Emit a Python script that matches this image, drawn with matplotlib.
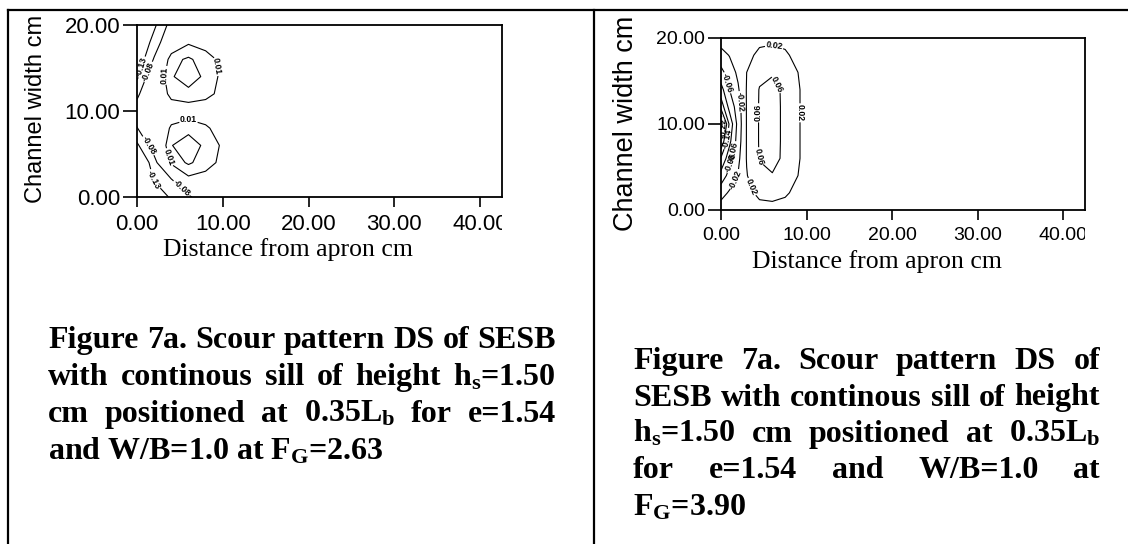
import matplotlib
matplotlib.use("Agg")
import matplotlib.pyplot as plt
from matplotlib.lines import Line2D
from matplotlib.ticker import FormatStrFormatter
from matplotlib.transforms import Bbox, TransformedBbox
import numpy as np

plt.rcParams['font.family'] = ['Liberation Sans', 'DejaVu Sans']
plt.rcParams['mathtext.fontset'] = 'custom'
plt.rcParams['mathtext.bf'] = 'Liberation Serif:bold'
plt.rcParams['mathtext.rm'] = 'Liberation Serif:bold'
plt.rcParams['mathtext.default'] = 'bf'

# scour depth (F_G = 2.63), rows = y, cols = x
xa = [0, 2, 4, 6, 8, 10, 12, 15, 42.5]
ya = [0, 2, 4, 6, 8, 10, 12, 14, 16, 18, 20]
za = [
    [-0.28, -0.18, -0.12, -0.09, -0.04, -0.025, -0.02, -0.02, -0.02],
    [-0.24, -0.125, -0.085, 0.0, -0.005, -0.015, -0.02, -0.02, -0.02],
    [-0.20, -0.10, 0.02, 0.045, 0.025, 0.0, -0.015, -0.02, -0.02],
    [-0.14, -0.05, 0.038, 0.065, 0.03, 0.005, -0.015, -0.02, -0.02],
    [-0.082, -0.03, 0.015, 0.025, 0.015, -0.005, -0.015, -0.02, -0.02],
    [-0.06, -0.03, -0.01, -0.005, -0.01, -0.015, -0.02, -0.02, -0.02],
    [-0.09, -0.025, 0.02, 0.025, 0.02, 0.0, -0.015, -0.02, -0.02],
    [-0.14, -0.03, 0.035, 0.065, 0.03, 0.002, -0.015, -0.02, -0.02],
    [-0.17, -0.075, 0.03, 0.045, 0.025, 0.0, -0.015, -0.02, -0.02],
    [-0.19, -0.11, -0.03, 0.005, -0.005, -0.02, -0.02, -0.02, -0.02],
    [-0.22, -0.14, -0.06, -0.03, -0.025, -0.02, -0.02, -0.02, -0.02],
]
levels_a = [-0.13, -0.08, 0.01, 0.04]
labeled_a = [-0.13, -0.08, 0.01]
# where the original puts the contour labels
spots_a = [(0.9, 15.0), (1.7, 14.4), (3.0, 14.2), (9.5, 15.2), (6.0, 9.2),
           (1.4, 6.0), (3.3, 4.5), (1.9, 2.0), (5.0, 0.8)]

# right plot (F_G = 3.90)
xb = [0, 1, 2, 3, 4.5, 6, 7.5, 9, 11, 15, 42.5]
yb = [0, 2, 4, 6, 8, 10, 12, 14, 16, 18, 20]
zb = [
    [0.0, -0.005, 0.0, 0.003, 0.008, 0.008, 0.006, 0.003, 0.0, 0.0, 0.0],
    [-0.035, -0.015, -0.005, 0.01, 0.028, 0.032, 0.025, 0.01, 0.003, 0.0, 0.0],
    [-0.085, -0.045, -0.018, 0.018, 0.05, 0.057, 0.045, 0.02, 0.005, 0.0, 0.0],
    [-0.135, -0.075, -0.03, 0.022, 0.062, 0.075, 0.05, 0.022, 0.005, 0.0, 0.0],
    [-0.215, -0.11, -0.04, 0.022, 0.063, 0.077, 0.05, 0.022, 0.005, 0.0, 0.0],
    [-0.28, -0.13, -0.045, 0.022, 0.063, 0.077, 0.05, 0.022, 0.005, 0.0, 0.0],
    [-0.165, -0.085, -0.04, 0.022, 0.063, 0.077, 0.05, 0.022, 0.005, 0.0, 0.0],
    [-0.115, -0.06, -0.025, 0.022, 0.062, 0.075, 0.05, 0.022, 0.005, 0.0, 0.0],
    [-0.072, -0.04, -0.012, 0.02, 0.05, 0.055, 0.04, 0.02, 0.005, 0.0, 0.0],
    [-0.035, -0.018, 0.0, 0.01, 0.028, 0.032, 0.025, 0.01, 0.005, 0.0, 0.0],
    [0.0, -0.005, 0.0, 0.005, 0.01, 0.012, 0.01, 0.005, 0.0, 0.0, 0.0],
]
levels_b = [-0.26, -0.22, -0.18, -0.14, -0.10, -0.06, -0.02, 0.02, 0.06]
spots_b = [(6.1, 18.8), (6.7, 14.7), (9.3, 11.3), (3.7, 11.3), (1.1, 14.9),
           (2.6, 12.6), (4.9, 6.2), (3.6, 2.7), (0.3, 9.6), (0.6, 8.3),
           (1.2, 6.8), (1.6, 5.6), (1.8, 3.5)]

xticks = [0, 10, 20, 30, 40]
yticks = [0, 10, 20]
xlabel = "Distance from apron cm"
ylabel = "Channel width cm"

cap_a = ["Figure 7a. Scour pattern DS of SESB",
         "with continous sill of height h$_s$=1.50",
         "cm positioned at 0.35L$_b$ for e=1.54",
         "and W/B=1.0 at F$_G$=2.63"]
cap_b = ["Figure 7a. Scour pattern DS of",
         "SESB with continous sill of height",
         "h$_s$=1.50 cm positioned at 0.35L$_b$",
         "for e=1.54 and W/B=1.0 at",
         "F$_G$=3.90"]

W, H = 1128, 544
fig = plt.figure(figsize=(W / 100, H / 100), dpi=100)


def px_axes(l, t, r, b):
    return fig.add_axes([l / W, 1 - b / H, (r - l) / W, (b - t) / H])


def setup(ax, x, y, z, levels, labeled, spots, tsize, ylen):
    cs = ax.contour(x, y, np.array(z), levels=levels, colors='black',
                    linewidths=0.8, linestyles='solid')
    txt = ax.clabel(cs, labeled, fmt='%.2f', fontsize=6.3, inline=True,
                    inline_spacing=1, manual=spots)
    for t in txt:
        t.set_fontweight('bold')
    ax.set_xlim(0, 42.55)
    ax.set_ylim(0, 20)
    ax.set_xticks(xticks)
    ax.set_yticks(yticks)
    ax.xaxis.set_major_formatter(FormatStrFormatter('%.2f'))
    ax.yaxis.set_major_formatter(FormatStrFormatter('%.2f'))
    ax.tick_params(axis='x', direction='out', length=7.5, width=1.2, pad=5, labelsize=tsize)
    ax.tick_params(axis='y', direction='out', length=ylen, width=1.2, pad=2, labelsize=tsize)
    for s in ax.spines.values():
        s.set_linewidth(1.3)
    return ax


ax1 = setup(px_axes(137, 25, 502, 197), xa, ya, za, levels_a, labeled_a, spots_a, 16, 10)
ax2 = setup(px_axes(721, 38, 1085, 210), xb, yb, zb, levels_b, levels_b, spots_b, 14, 9.5)

# axis titles
fig.text(36 / W, 1 - 109 / H, ylabel, rotation=90, ha='center', va='center', fontsize=17)
fig.text(626 / W, 1 - 123 / H, ylabel, rotation=90, ha='center', va='center', fontsize=19.5)
fig.text(288 / W, 1 - 256 / H, xlabel, ha='center', va='baseline', fontsize=18.5,
         family='Liberation Serif')
fig.text(877 / W, 1 - 268 / H, xlabel, ha='center', va='baseline', fontsize=18.5,
         family='Liberation Serif')

# table frame
for xs, ys in [([8, W], [10, 10]), ([8, 8], [10, H]), ([594, 594], [10, H])]:
    fig.add_artist(Line2D([v / W for v in xs], [1 - v / H for v in ys],
                          transform=fig.transFigure, color='black', lw=1.6))

fig.canvas.draw()
renderer = fig.canvas.get_renderer()

# last tick label is cut by the right frame in the original
for ax in (ax1, ax2):
    clip = TransformedBbox(Bbox([[-1, -1], [1, 1]]), ax.transAxes)
    for lbl in ax.get_xticklabels():
        lbl.set_clip_box(clip)
        lbl.set_clip_on(True)

cap_kw = dict(family='Liberation Serif', weight='bold', fontsize=23, va='baseline')


def justified(lines, x0, x1, y0, dy):
    for i, line in enumerate(lines):
        y = 1 - (y0 + i * dy) / H
        if i == len(lines) - 1:
            fig.text(x0 / W, y, line, ha='left', **cap_kw)
            continue
        words = line.split(' ')
        ts = [fig.text(0, y, w, ha='left', **cap_kw) for w in words]
        ws = [t.get_window_extent(renderer).width for t in ts]
        gap = (x1 - x0 - sum(ws)) / (len(words) - 1)
        x = x0
        for t, w in zip(ts, ws):
            t.set_x(x / W)
            x += w + gap


justified(cap_a, 48, 556, 348, 37)
justified(cap_b, 633, 1100, 369, 36.5)

fig.savefig("out.png", dpi=100)
